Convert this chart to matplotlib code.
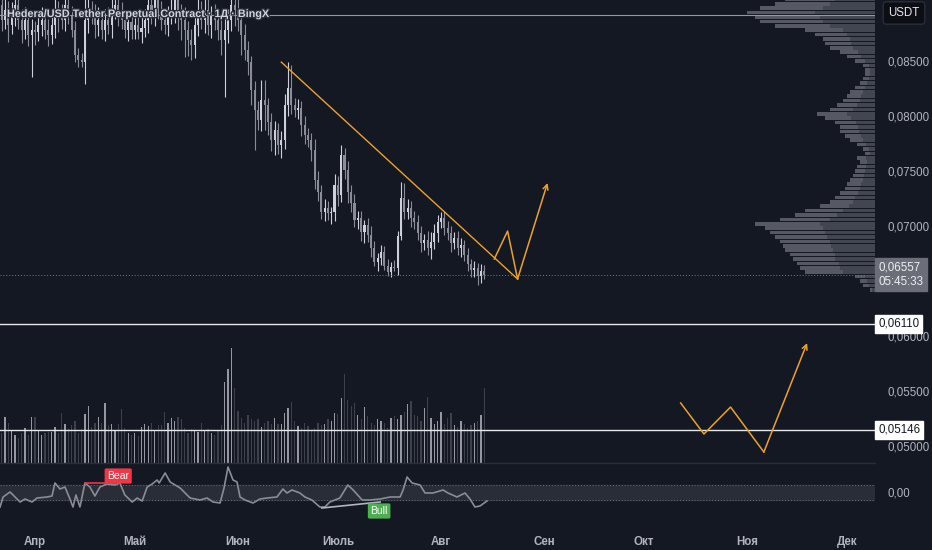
import matplotlib
matplotlib.use("Agg")
import matplotlib.dates as mdates
import matplotlib.patheffects as pe
import matplotlib.pyplot as plt
import numpy as np
import pandas as pd
from matplotlib.ticker import FuncFormatter

plt.rcParams["font.family"] = ["Liberation Sans", "DejaVu Sans"]

BG = "#141823"
TEXT = "#b2b5be"
UP = "#cdd0d8"
DOWN = "#8a8d97"
ORANGE = "#eea12a"

TITLE = "Hedera/USD Tether Perpetual Contract · 1Д · BingX"
FIRST_CANDLE = "2023-03-22"
FIRST_OPEN = 0.09009

# daily closes, USDT
closes = [
    0.08873, 0.08964, 0.08827, 0.08918, 0.09009, 0.08873, 0.08782, 0.08873, 0.08736, 0.08782,
    0.08764, 0.08827, 0.08873, 0.08782, 0.08736, 0.08827, 0.08964, 0.08918, 0.08873, 0.09009,
    0.08918, 0.08782, 0.08555, 0.08509, 0.08491, 0.08873, 0.08964, 0.08918, 0.08827, 0.08873,
    0.08782, 0.08873, 0.08827, 0.08964, 0.09009, 0.08918, 0.08873, 0.08782, 0.08855, 0.08782,
    0.08827, 0.08764, 0.08800, 0.08873, 0.09009, 0.08918, 0.09100, 0.08964, 0.08873, 0.08827,
    0.08918, 0.08964, 0.09055, 0.08918, 0.08873, 0.08782, 0.08691, 0.08645, 0.08827, 0.08964,
    0.08873, 0.08964, 0.08827, 0.08918, 0.08873, 0.08782, 0.08691, 0.08782, 0.08873, 0.09009,
    0.08964, 0.08873, 0.08736, 0.08600, 0.08491,
    0.08236, 0.08055, 0.07964, 0.08145, 0.08100, 0.07945, 0.07782, 0.07873, 0.07736, 0.07782,
    0.08100, 0.08254, 0.08100, 0.08055, 0.08073, 0.07918, 0.07827, 0.07782, 0.07691, 0.07418,
    0.07309, 0.07127, 0.07164, 0.07118, 0.07127, 0.07373, 0.07282, 0.07645, 0.07509, 0.07309,
    0.07209, 0.07055, 0.07073, 0.06945, 0.07009, 0.06918, 0.06800, 0.06673, 0.06709, 0.06764,
    0.06636, 0.06582, 0.06627, 0.06618, 0.06909, 0.07254, 0.07127, 0.07164, 0.07073, 0.07036,
    0.06936, 0.06845, 0.06873, 0.06800, 0.06855, 0.06936, 0.07036, 0.07073, 0.06982, 0.06936,
    0.06845, 0.06891, 0.06800, 0.06827, 0.06736, 0.06654, 0.06600, 0.06618, 0.06545, 0.06591,
    0.06557,
]

upper_wicks = [
    0.0012, 0.0010, 0.0008, 0.0012, 0.0010, 0.0008, 0.0010, 0.0012, 0.0008, 0.0010,
    0.0008, 0.0010, 0.0012, 0.0008, 0.0010, 0.0012, 0.0010, 0.0008, 0.0010, 0.0012,
    0.0010, 0.0008, 0.0008, 0.0006, 0.0006, 0.0020, 0.0010, 0.0008, 0.0010, 0.0012,
    0.0008, 0.0010, 0.0012, 0.0010, 0.0008, 0.0010, 0.0012, 0.0008, 0.0010, 0.0008,
    0.0010, 0.0008, 0.0012, 0.0010, 0.0008, 0.0010, 0.0012, 0.0010, 0.0008, 0.0010,
    0.0008, 0.0012, 0.0010, 0.0008, 0.0010, 0.0012, 0.0008, 0.0010, 0.0012, 0.0010,
    0.0008, 0.0010, 0.0012, 0.0008, 0.0010, 0.0008, 0.0010, 0.0012, 0.0010, 0.0008,
    0.0010, 0.0012, 0.0008, 0.0010, 0.0008,
    0.0005, 0.0008, 0.0008, 0.0018, 0.0018, 0.0006, 0.0008, 0.0008, 0.0006, 0.0008,
    0.0010, 0.0024, 0.0021, 0.0006, 0.0008, 0.0006, 0.0008, 0.0006, 0.0006, 0.0010,
    0.0008, 0.0006, 0.0008, 0.0006, 0.0005, 0.0010, 0.0008, 0.0009, 0.0006, 0.0008,
    0.0006, 0.0008, 0.0006, 0.0006, 0.0005, 0.0006, 0.0008, 0.0006, 0.0005, 0.0006,
    0.0005, 0.0006, 0.0005, 0.0006, 0.0005, 0.0015, 0.0014, 0.0008, 0.0006, 0.0006,
    0.0006, 0.0006, 0.0005, 0.0008, 0.0009, 0.0008, 0.0006, 0.0005, 0.0006, 0.0006,
    0.0006, 0.0005, 0.0006, 0.0006, 0.0005, 0.0006, 0.0005, 0.0006, 0.0005, 0.0006,
    0.0005,
]

lower_wicks = [
    0.0010, 0.0008, 0.0015, 0.0008, 0.0010, 0.0008, 0.0012, 0.0008, 0.0010, 0.0038,
    0.0012, 0.0008, 0.0010, 0.0008, 0.0010, 0.0008, 0.0012, 0.0015, 0.0008, 0.0010,
    0.0008, 0.0006, 0.0006, 0.0006, 0.0005, 0.0020, 0.0012, 0.0008, 0.0012, 0.0010,
    0.0008, 0.0010, 0.0008, 0.0012, 0.0008, 0.0010, 0.0008, 0.0007, 0.0010, 0.0008,
    0.0008, 0.0006, 0.0010, 0.0008, 0.0012, 0.0008, 0.0010, 0.0008, 0.0009, 0.0008,
    0.0010, 0.0008, 0.0012, 0.0014, 0.0018, 0.0025, 0.0015, 0.0014, 0.0012, 0.0010,
    0.0008, 0.0012, 0.0009, 0.0012, 0.0009, 0.0009, 0.0014, 0.0052, 0.0012, 0.0010,
    0.0015, 0.0010, 0.0018, 0.0009, 0.0012,
    0.0014, 0.0036, 0.0009, 0.0010, 0.0023, 0.0012, 0.0010, 0.0014, 0.0008, 0.0012,
    0.0008, 0.0010, 0.0008, 0.0006, 0.0008, 0.0010, 0.0008, 0.0006, 0.0010, 0.0008,
    0.0008, 0.0006, 0.0008, 0.0006, 0.0010, 0.0008, 0.0010, 0.0006, 0.0008, 0.0010,
    0.0008, 0.0006, 0.0008, 0.0008, 0.0010, 0.0006, 0.0008, 0.0004, 0.0008, 0.0006,
    0.0004, 0.0004, 0.0005, 0.0003, 0.0006, 0.0004, 0.0006, 0.0006, 0.0008, 0.0006,
    0.0006, 0.0008, 0.0006, 0.0006, 0.0010, 0.0006, 0.0008, 0.0005, 0.0006, 0.0006,
    0.0008, 0.0005, 0.0006, 0.0008, 0.0005, 0.0006, 0.0006, 0.0006, 0.0008, 0.0006,
    0.0004,
]

# volume, millions
volumes = [
    30, 46, 40, 33, 28, 25, 30, 35, 28, 46,
    46, 32, 28, 30, 31, 31, 36, 30, 50, 39,
    34, 38, 42, 30, 34, 49, 57, 36, 40, 46,
    40, 60, 38, 39, 33, 39, 54, 35, 30, 28,
    30, 27, 36, 39, 37, 40, 32, 38, 38, 51,
    40, 45, 42, 46, 44, 35, 30, 34, 32, 31,
    40, 33, 34, 30, 28, 32, 38, 81, 94, 115,
    75, 52, 45, 40, 48, 44, 42, 44, 36, 40,
    42, 39, 45, 39, 39, 50, 55, 61, 42, 37,
    35, 40, 37, 33, 35, 40, 38, 39, 44, 42,
    50, 49, 65, 89, 63, 57, 60, 48, 44,
    56, 47, 40, 38, 44, 42, 40, 35, 45, 47,
    44, 48, 51, 59, 62, 48, 47, 42, 55, 66,
    45, 39, 42, 51, 39, 45, 50, 38, 36, 42,
    39, 35, 38, 40, 42, 48, 75,
]

# visible-range volume profile, rows of 0.0004 USDT starting at 0.0642
PROFILE_FIRST_ROW = 0.0642
PROFILE_ROW = 0.0004
profile_total = [
    5, 12, 15, 20, 70, 75, 78, 82, 85, 90,
    92, 95, 100, 105, 110, 120, 95, 80, 70, 55,
    45, 40, 35, 30, 28, 25, 22, 20, 18, 15,
    18, 10, 12, 18, 25, 30, 35, 35, 40, 50,
    58, 45, 38, 32, 28, 25, 20, 15, 12, 10,
    10, 12, 20, 28, 35, 45, 50, 52, 60, 70,
    100, 115, 120, 128, 115, 100, 90,
]
profile_up = [
    3, 6, 8, 10, 32, 35, 36, 40, 40, 42,
    44, 45, 48, 50, 52, 55, 45, 38, 32, 26,
    22, 20, 17, 15, 14, 12, 11, 10, 9, 8,
    9, 5, 6, 9, 12, 14, 16, 17, 19, 24,
    28, 22, 18, 15, 14, 12, 10, 8, 6, 5,
    5, 6, 10, 14, 17, 22, 24, 25, 28, 32,
    45, 52, 55, 60, 52, 45, 40,
]

# oscillator pane, offsets in days from the first candle
osc_offsets = [
    -0.5, 0.4, 2.5, 4, 5.5, 7, 9.1, 10.6, 13.6, 15.1,
    16, 17.5, 19, 20.5, 21.4, 22.3, 23.5, 25, 26.5, 28,
    29.5, 31.6, 34, 35.5, 37, 39.2, 40.7, 42.2, 43.7, 45.2,
    46.7, 47.3, 49.1, 50.6, 53.6, 56.6, 59.6, 61.7, 63.5, 65.6,
    66.8, 68, 69.5, 70.7, 71.6, 73.1, 75.5, 77.6, 79.7, 82.7,
    84.5, 85.7, 87.2, 89.6, 91.1, 93.2, 95.6, 97.1, 98.6, 101.6,
    104, 105.6, 108.3, 110.7, 113.7, 116.7, 119.7, 120.6, 121.8, 123.3,
    125.7, 127.2, 129.6, 132.6, 134.1, 136.8, 139.2, 140.7, 142.2, 143.7,
    145.8,
]
osc_values = [
    -1.5, -0.5, 0.0, -0.5, -1.0, -0.7, -1.0, -0.6, -0.5, -0.4,
    0.9, 0.3, 0.5, -0.7, -1.5, -0.3, -1.5, 0.9, 0.5, -0.4,
    0.5, 0.8, 0.7, 0.9, -0.3, -1.0, -0.6, -0.9, 0.5, 0.8,
    1.2, 0.9, 1.9, 1.0, 0.4, -0.6, -0.8, -0.6, -1.0, -1.1,
    0.4, 2.5, 1.2, 1.0, -0.5, -0.8, -1.1, -0.7, -0.6, -0.5,
    0.3, -0.1, 0.2, -0.1, -0.5, -0.8, -1.5, -1.5, -1.0, -0.6,
    0.7, 0.2, -0.8, -0.8, -0.7, -0.5, -0.5, 0.2, 1.5, 0.9,
    0.7, -0.1, -0.1, 0.2, -0.1, -0.5, -0.1, -0.7, -1.5, -1.4,
    -0.9,
]
osc_band = (-0.8, 0.7)
bear_offsets, bear_values, bear_label = [25, 34], [0.9, 0.9], (35, 1.6)
bull_offsets, bull_values, bull_label = [96.2, 113.7], [-1.6, -1.0], (113.4, -1.9)

# drawings
trend_dates = ["2023-06-14", "2023-08-24"]
trend_prices = [0.0849, 0.06518]
near_dates = ["2023-08-17", "2023-08-21", "2023-08-24", "2023-09-02"]
near_prices = [0.06700, 0.06954, 0.06518, 0.07391]
far_dates = ["2023-10-12", "2023-10-19", "2023-10-27", "2023-11-06", "2023-11-19"]
far_prices = [0.05391, 0.05109, 0.05354, 0.04945, 0.05936]
level_top = 0.08918
level_high = 0.06110
level_low = 0.05146
last_price = 0.06557
countdown = "05:45:33"

price_ticks = [0.05, 0.055, 0.06, 0.07, 0.075, 0.08, 0.085]
month_names = {4: "Апр", 5: "Май", 6: "Июн", 7: "Июль", 8: "Авг",
               9: "Сен", 10: "Окт", 11: "Ноя", 12: "Дек"}


def fmt_price(v, digits=5):
    return f"{v:.{digits}f}".replace(".", ",")


closes = np.array(closes)
opens = np.r_[FIRST_OPEN, closes[:-1]]
highs = np.maximum(opens, closes) + np.array(upper_wicks)
lows = np.minimum(opens, closes) - np.array(lower_wicks)
start = mdates.date2num(pd.Timestamp(FIRST_CANDLE))
dates = start + np.arange(len(closes))
up = closes >= opens
candle_colors = np.where(up, UP, DOWN)

W, H = 932, 550
fig = plt.figure(figsize=(W / 100, H / 100), dpi=100, facecolor=BG)
x_min = mdates.date2num(pd.Timestamp("2023-04-01")) - 10.52
x_max = mdates.date2num(pd.Timestamp("2023-04-01")) + 252.4
y_min, y_max = 0.048455, 0.090545
main_rect = [0, 87 / H, 875 / W, 463 / H]

# volume (bottom layer)
vax = fig.add_axes(main_rect, facecolor=BG)
vax.bar(dates, volumes, width=0.38, color=np.where(up, "#9598a1", "#3d414c"))
vax.set_xlim(x_min, x_max)
vax.set_ylim(0, 463)
vax.axis("off")

# volume profile
pax = fig.add_axes(main_rect, facecolor="none")
rows = PROFILE_FIRST_ROW + PROFILE_ROW * np.arange(len(profile_total))
pax.barh(rows, profile_total, height=PROFILE_ROW * 0.85, color="#62656f", alpha=0.85)
pax.barh(rows, profile_up, height=PROFILE_ROW * 0.85, color="#40444f", alpha=0.9)
pax.set_xlim(875, 0)
pax.set_ylim(y_min, y_max)
pax.axis("off")

# price pane
ax = fig.add_axes(main_rect, facecolor="none")
for s in ax.spines.values():
    s.set_visible(False)
ax.vlines(dates, lows, highs, colors=candle_colors, lw=0.8)
ax.bar(dates, np.maximum(np.abs(closes - opens), 0.00008), bottom=np.minimum(opens, closes),
       width=0.62, color=candle_colors)
ax.axhline(level_top, color="#9598a1", lw=0.8)
ax.axhline(level_high, color="#e6e7ea", lw=1.0)
ax.axhline(level_low, color="#e6e7ea", lw=1.0)
ax.axhline(last_price, color="#787b86", lw=0.7, ls=(0, (1, 2)))

ax.plot(mdates.date2num(pd.to_datetime(trend_dates)), trend_prices, color=ORANGE, lw=1.0)
for dd, pp in ((near_dates, near_prices), (far_dates, far_prices)):
    xs = mdates.date2num(pd.to_datetime(dd))
    ax.plot(xs[:-1], pp[:-1], color=ORANGE, lw=1.1)
    ax.annotate("", xy=(xs[-1], pp[-1]), xytext=(xs[-2], pp[-2]),
                arrowprops=dict(arrowstyle="->", color=ORANGE, lw=1.1,
                                shrinkA=0, shrinkB=0, mutation_scale=9))

ax.set_xlim(x_min, x_max)
ax.set_ylim(y_min, y_max)
ax.set_xticks([])
ax.yaxis.tick_right()
ax.set_yticks(price_ticks)
ax.set_yticklabels([fmt_price(t) for t in price_ticks])
ax.tick_params(axis="y", length=0, pad=9, colors=TEXT, labelsize=8.3)

ax.text(0.008, 1 - 14 / 463, TITLE, transform=ax.transAxes, va="center", ha="left",
        color="#d1d4dc", fontsize=7.8, fontweight="bold", zorder=10,
        path_effects=[pe.withStroke(linewidth=2.0, foreground="#2a2e39")])

ytr = ax.get_yaxis_transform()
for lvl in (level_high, level_low):
    ax.text(1.0035, lvl, fmt_price(lvl), transform=ytr, va="center", ha="left",
            color="#131722", fontsize=8.3,
            bbox=dict(boxstyle="square,pad=0.25", fc="white", ec="white"))
ax.text(1.0035, last_price, fmt_price(last_price) + "\n" + countdown, transform=ytr,
        va="center", ha="left", color="#eceef2", fontsize=8.3, linespacing=1.25,
        bbox=dict(boxstyle="square,pad=0.3", fc="#6b6e78", ec="#6b6e78"))
fig.text(904 / W, 1 - 13 / H, "USDT", ha="center", va="center", color="#e6e7ea", fontsize=8.3,
         bbox=dict(boxstyle="round,pad=0.45,rounding_size=0.3", fc="#0c0e14", ec="#2a2e39"))

# oscillator pane
oax = fig.add_axes([0, 28 / H, 875 / W, 59 / H], facecolor=BG)
for s in oax.spines.values():
    s.set_visible(False)
oax.axhspan(*osc_band, color="#292d38")
for b in osc_band:
    oax.axhline(b, color="#6a6d78", lw=0.7, ls=(0, (1, 2)))
oax.plot(start + np.array(osc_offsets), osc_values, color="#8a8d96", lw=1.2)
oax.plot(start + np.array(bear_offsets), bear_values, color="#f23645", lw=1.2)
oax.text(start + bear_label[0], bear_label[1], "Bear", ha="center", va="center", color="white",
         fontsize=7.5, bbox=dict(boxstyle="round,pad=0.25,rounding_size=0.15", fc="#f23645", ec="none"))
oax.plot(start + np.array(bull_offsets), bull_values, color="#b2b5be", lw=1.2)
oax.text(start + bull_label[0], bull_label[1], "Bull", ha="center", va="center", color="white",
         fontsize=7.5, bbox=dict(boxstyle="round,pad=0.25,rounding_size=0.15", fc="#4caf50", ec="none"))
oax.set_xlim(x_min, x_max)
oax.set_ylim(-3.0, 2.9)
oax.yaxis.tick_right()
oax.set_yticks([0])
oax.set_yticklabels(["0,00"])
oax.tick_params(axis="y", length=0, pad=9, colors=TEXT, labelsize=8.3)
oax.xaxis.set_major_locator(mdates.MonthLocator())
oax.xaxis.set_major_formatter(FuncFormatter(lambda v, _: month_names.get(mdates.num2date(v).month, "")))
oax.tick_params(axis="x", length=0, pad=10, colors=TEXT, labelsize=8.3)
for lbl in oax.get_xticklabels():
    lbl.set_fontweight("bold")

fig.add_artist(plt.Line2D([0, 875 / W], [87 / H, 87 / H], color="#2a2e39", lw=1))

fig.savefig("out.png", dpi=100, facecolor=BG)
